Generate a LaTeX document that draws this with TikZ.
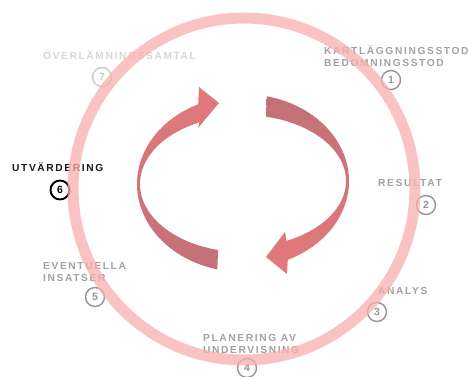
\documentclass[tikz,border=0pt]{standalone}
\usepackage{fontspec}
\newfontfamily\lblfont[LetterSpace=16]{Liberation Sans}
\newfontfamily\numfont{Liberation Sans}
\definecolor{ringpink}{HTML}{F9AFAF}
\definecolor{lblgray}{HTML}{A2A2A2}
\definecolor{lblpale}{HTML}{D6D6D6}
\definecolor{numgray}{HTML}{949494}
\definecolor{arrowred}{HTML}{E47A7C}
\definecolor{arrowdull}{HTML}{C27078}
\tikzset{
  lbl/.style={font=\lblfont\bfseries\fontsize{10.2}{12}\selectfont,
    text=lblgray, align=left, anchor=west, inner sep=0pt},
  stepnum/.style={circle, draw=numgray, line width=1.4pt, minimum size=19pt,
    inner sep=0pt, text=numgray, font=\numfont\bfseries\fontsize{10.5}{10.5}\selectfont}
}
\begin{document}
\begin{tikzpicture}[x=1pt,y=1pt]
\path[use as bounding box, clip] (0,0) rectangle (468,376);
\fill[white] (0,0) rectangle (468,376);

\node[lbl, text=lblpale] (l7) at (43,321) {ÖVERLÄMNINGSSAMTAL};
\node[stepnum, draw=lblpale!85!gray, text=lblpale!85!gray] (n7) at (102,299) {7};

\node[lbl] (l1) at (324,320) {KARTLÄGGNINGSSTOD\\BEDOMNINGSSTOD};
\node[stepnum] (n1) at (391,296) {1};

\node[lbl, text=black!90] (l6) at (12,209) {UTVÄRDERING};
\node[stepnum, draw=black, text=black, line width=1.9pt] (n6) at (60,186) {6};

\node[lbl] (l5) at (43,103.5) {EVENTUELLA\\INSATSER};
\node[stepnum] (n5) at (95,79) {5};

\node[lbl] (l2) at (378,193) {RESULTAT};
\node[stepnum] (n2) at (426,171) {2};

\node[lbl] (l3) at (378,85) {ANALYS};
\node[stepnum] (n3) at (377,64) {3};

\node[lbl] (l4) at (203,32) {PLANERING AV\\UNDERVISNING};
\node[stepnum] (n4) at (247,8) {4};

\draw[ringpink, opacity=0.75, line width=11pt] (244,187) circle[radius=171];

\shade[top color=arrowred, bottom color=arrowdull]
  ([shift={(243,192)}]256:106 and 88)
  arc[start angle=256, end angle=115, x radius=106, y radius=88]
  -- (199,289) -- (219,273) -- (198,248)
  -- ([shift={(243,192)}]115:103 and 68)
  arc[start angle=115, end angle=256, x radius=103, y radius=68]
  -- cycle;

\shade[top color=arrowdull, bottom color=arrowred]
  ([shift={(243,195)}]77:106 and 87)
  arc[start angle=77, end angle=-65, x radius=106, y radius=87]
  -- (287,102) -- (266,119) -- (285,144)
  -- ([shift={(243,195)}]-65:103 and 66)
  arc[start angle=-65, end angle=77, x radius=103, y radius=66]
  -- cycle;
\end{tikzpicture}
\end{document}
